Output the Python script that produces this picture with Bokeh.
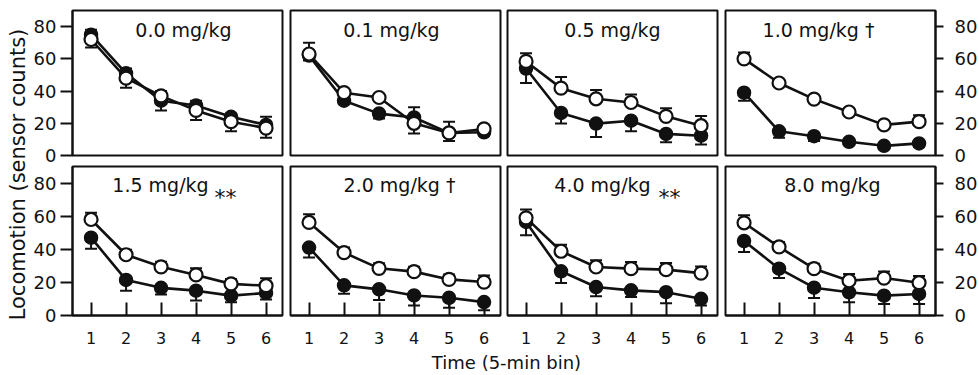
import math
from bokeh.plotting import figure
from bokeh.models import Range1d, Label, Whisker, ColumnDataSource, TeeHead, FixedTicker
from bokeh.layouts import row, column
from bokeh.embed import file_html
from bokeh.resources import INLINE

FONT = "DejaVu Sans"
INK = "#111111"

# ---------------- data ----------------
time_bins = [1, 2, 3, 4, 5, 6]
y_ticks = [0, 20, 40, 60, 80]
dose_labels = ["0.0 mg/kg", "0.1 mg/kg", "0.5 mg/kg", "1.0 mg/kg \u2020",
               "1.5 mg/kg", "2.0 mg/kg \u2020", "4.0 mg/kg", "8.0 mg/kg"]
dose_marks = ["", "", "", "", "**", "", "**", ""]

# open circles (mean, upward SEM)
open_mean = [
    [72, 48, 37, 28, 21, 17],
    [63, 39, 36, 20, 14, 16.5],
    [58.4, 41.8, 35.2, 32.9, 24.3, 18.5],
    [60, 45, 35, 27, 19, 21],
    [58, 36.7, 29.4, 24.5, 19.1, 18],
    [56.2, 38, 28.5, 26.5, 21.8, 20.2],
    [59, 38.8, 29.3, 28.3, 27.7, 25.6],
    [56, 41.4, 28.3, 21, 22.6, 19.8],
]
open_err = [
    [6, 6, 3, 6, 5, 7],
    [7, 2, 2, 10, 7, 2],
    [5, 7, 5.5, 5, 5, 6],
    [4, 2, 2, 2, 2, 4],
    [4, 3, 3, 4, 3, 4.5],
    [5, 3, 3, 3, 3, 4],
    [5, 4, 4, 4, 4, 4],
    [4.5, 3, 3, 4, 4, 4],
]
# filled circles (mean, downward SEM)
filled_mean = [
    [75, 51, 34, 31, 24, 19],
    [62, 34, 26, 23.6, 14, 14.4],
    [54, 26.4, 19.8, 21.6, 13.4, 12.3],
    [39, 15, 12, 8.5, 6, 7.5],
    [47, 21.5, 16.7, 15, 12, 13.6],
    [41, 18.2, 15.8, 12.1, 10.7, 8.1],
    [56.5, 26.7, 17.2, 15.2, 14.1, 10.1],
    [45, 28.3, 16.8, 14, 12, 13],
]
filled_err = [
    [8, 9, 6, 9, 9, 8],
    [3, 2, 3, 10, 5, 2],
    [9, 6.6, 8.3, 6.6, 5.2, 5.5],
    [5, 4, 3, 2, 2, 2],
    [6.7, 6.5, 4, 6, 4, 4],
    [6, 5, 6.5, 6, 6, 5],
    [8, 7, 5.6, 4, 6.7, 4],
    [6.6, 5.6, 6.3, 6, 5, 6],
]

# ---------------- layout (pixels) ----------------
FRAME_W = 210
FRAME_H = [145, 149]
BORDER_L = [40, 5, 4, 4]
BORDER_R = [3, 3, 4, 41]
BORDER_T = [10, 1]
BORDER_B = [10, 35]
TITLE_DX = [6, -4, 0, -12, -17, 4, -10, 2]
MARK_DX = [0, 0, 0, 0, 48, 0, 57, 0]
TITLE_Y = [78, 79]
X_LO, X_HI = 0.47, 6.47
Y_HI = 90
XL_H = 24
YL_W = 30


def make_panel(i):
    r, c = divmod(i, 4)
    ylock = "left" if c == 0 else ("right" if c == 3 else None)
    p = figure(frame_width=FRAME_W, frame_height=FRAME_H[r],
               x_range=Range1d(X_LO, X_HI), y_range=Range1d(0, Y_HI),
               output_backend="svg", toolbar_location=None,
               x_axis_location=None if r == 0 else "below",
               y_axis_location=ylock,
               min_border_left=BORDER_L[c], min_border_right=BORDER_R[c],
               min_border_top=BORDER_T[r], min_border_bottom=BORDER_B[r],
               background_fill_color="white", border_fill_color="white")
    p.outline_line_color = INK
    p.outline_line_width = 2
    p.grid.visible = False

    for ax in p.yaxis:
        ax.ticker = FixedTicker(ticks=y_ticks)
        ax.major_tick_out = 12 if c == 0 else 8
        ax.major_tick_in = 0
        ax.minor_tick_line_color = None
        ax.axis_line_width = 2
        ax.axis_line_color = INK
        ax.major_tick_line_width = 2
        ax.major_tick_line_color = INK
        ax.major_label_text_font = FONT
        ax.major_label_text_font_size = "18px"
        ax.major_label_text_color = INK
        ax.major_label_standoff = 4 if c == 0 else 11
    for ax in p.xaxis:
        ax.ticker = FixedTicker(ticks=time_bins)
        ax.major_tick_in = 13
        ax.major_tick_out = 0
        ax.minor_tick_line_color = None
        ax.axis_line_width = 2
        ax.axis_line_color = INK
        ax.major_tick_line_width = 2
        ax.major_tick_line_color = INK
        ax.major_label_text_font = FONT
        ax.major_label_text_font_size = "16px"
        ax.major_label_text_color = INK
        ax.major_label_standoff = 16

    om, oe = open_mean[i], open_err[i]
    fm, fe = filled_mean[i], filled_err[i]
    src = ColumnDataSource(dict(
        x=time_bins, om=om, o_up=[m + e for m, e in zip(om, oe)],
        fm=fm, f_lo=[m - e for m, e in zip(fm, fe)]))

    p.add_layout(Whisker(source=src, base="x", upper="o_up", lower="om",
                         line_color=INK, line_width=2,
                         upper_head=TeeHead(size=12, line_width=2, line_color=INK),
                         lower_head=None))
    p.add_layout(Whisker(source=src, base="x", upper="fm", lower="f_lo",
                         line_color=INK, line_width=2,
                         lower_head=TeeHead(size=12, line_width=2, line_color=INK),
                         upper_head=None))

    p.line("x", "fm", source=src, line_color=INK, line_width=2.6)
    p.line("x", "om", source=src, line_color=INK, line_width=2.6)
    p.scatter("x", "fm", source=src, size=13, fill_color=INK, line_color=INK, line_width=1.5)
    p.scatter("x", "om", source=src, size=13, fill_color="white", line_color=INK, line_width=2.2)

    xc = (X_LO + X_HI) / 2
    p.add_layout(Label(x=xc, y=TITLE_Y[r], x_offset=TITLE_DX[i], text=dose_labels[i],
                       text_align="center", text_baseline="alphabetic",
                       text_font=FONT, text_font_size="19px", text_color=INK))
    if dose_marks[i]:
        p.add_layout(Label(x=xc, y=TITLE_Y[r] - 7.5, x_offset=MARK_DX[i], text=dose_marks[i],
                           text_align="center", text_baseline="alphabetic",
                           text_font=FONT, text_font_size="22px", text_color=INK))
    return p


panels = [make_panel(i) for i in range(8)]
row1 = row(*panels[:4], spacing=0)
row2 = row(*panels[4:], spacing=0)

total_h = sum(BORDER_T) + sum(FRAME_H) + sum(BORDER_B) + XL_H
grid_w = sum(BORDER_L) + sum(BORDER_R) + 4 * FRAME_W

yl = figure(width=YL_W, height=total_h, x_range=Range1d(0, YL_W), y_range=Range1d(0, total_h),
            output_backend="svg", toolbar_location=None, x_axis_location=None,
            y_axis_location=None, min_border=0, outline_line_color=None)
yl.grid.visible = False
yl.add_layout(Label(x=17, y=total_h - 174, text="Locomotion (sensor counts)", angle=math.pi / 2,
                    text_align="center", text_baseline="middle",
                    text_font=FONT, text_font_size="21px", text_color=INK))

xl = figure(width=grid_w, height=XL_H, x_range=Range1d(0, grid_w), y_range=Range1d(0, XL_H),
            output_backend="svg", toolbar_location=None, x_axis_location=None,
            y_axis_location=None, min_border=0, outline_line_color=None)
xl.grid.visible = False
xl.add_layout(Label(x=476, y=XL_H / 2, text="Time (5-min bin)",
                    text_align="center", text_baseline="middle",
                    text_font=FONT, text_font_size="18px", text_color=INK))

layout = row(yl, column(row1, row2, xl, spacing=0), spacing=0)

open("out.html", "w").write(file_html(layout, INLINE))
